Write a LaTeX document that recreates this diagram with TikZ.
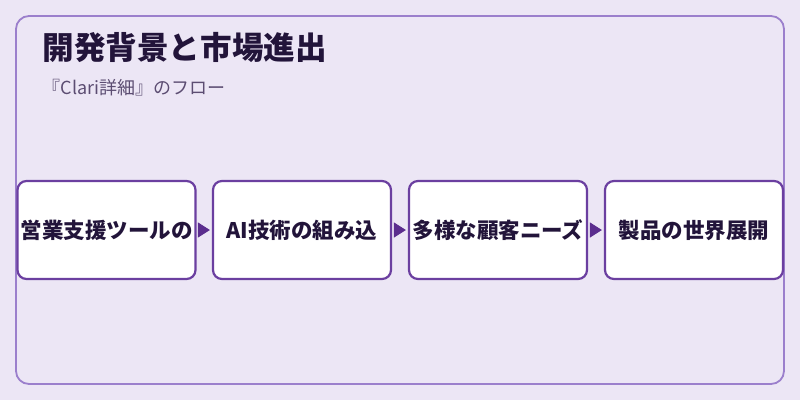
\documentclass[tikz,border=0pt]{standalone}
\usepackage{fontspec}
\setmainfont{Noto Sans CJK JP}
\usetikzlibrary{arrows.meta}
\definecolor{fond}{HTML}{ECE6F5}
\definecolor{cadre}{HTML}{9B7FCC}
\definecolor{bord}{HTML}{6B3FA0}
\definecolor{fleche}{HTML}{5B2D8E}
\definecolor{titre}{HTML}{22143A}
\definecolor{soustitre}{HTML}{5C4D72}

\begin{document}
\def\bw{178}
\def\bh{98}
\def\y{230}

\begin{tikzpicture}[x=1pt,y=-1pt]
\tikzstyle{etape}=[draw=bord,line width=2.2pt,rounded corners=9pt,fill=white,minimum width=\bw pt,minimum height=\bh pt,inner sep=0pt,font=\bfseries\fontsize{21.5}{24}\selectfont,text=titre]
\tikzstyle{arc}=[-{Triangle[length=12pt,width=15pt]},fleche,line width=1pt,shorten <=3pt,shorten >=2pt]

\useasboundingbox[fill=fond] (0,0) rectangle (800,400);
\draw[cadre,line width=1.8pt,rounded corners=13pt] (16,16) rectangle (784,384);

\node[anchor=west,font=\bfseries\fontsize{31.6}{34}\selectfont,text=titre] (titre) at (39,47) {開発背景と市場進出};
\node[anchor=west,font=\fontsize{18}{20}\selectfont,text=soustitre] (sous) at (39,88) {『Clari詳細』のフロー};

\node[etape] (e1) at (106.5,\y) {営業支援ツールの};
\node[etape] (e2) at (302,\y) {AI技術の組み込};
\node[etape] (e3) at (498,\y) {多様な顧客ニーズ};
\node[etape] (e4) at (694,\y) {製品の世界展開};

\draw[arc] (e1) -- (e2);
\draw[arc] (e2) -- (e3);
\draw[arc] (e3) -- (e4);

\end{tikzpicture}
\end{document}
